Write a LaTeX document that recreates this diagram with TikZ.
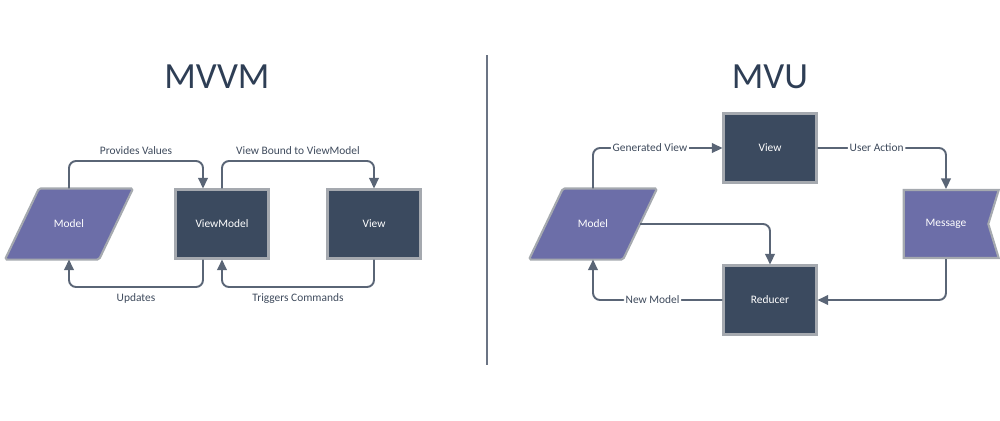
\documentclass[tikz,border=0pt]{standalone}
\usepackage{fontspec}
\setmainfont{Carlito}
\usepackage{tikz}
\usetikzlibrary{shapes.symbols, arrows.meta, backgrounds}

\definecolor{boxfill}{HTML}{3B4A5F}
\definecolor{modelfill}{HTML}{6C6EA8}
\definecolor{boxline}{HTML}{A5A9AF}
\definecolor{flowcol}{HTML}{5A6576}
\definecolor{titlecol}{HTML}{2E3E55}
\definecolor{labelcol}{HTML}{3E4A5C}

\tikzset{
	boxtext/.style = {text = white, font = \fontsize{6.5}{8}\selectfont},
	darkbox/.style = {rectangle, boxtext, fill = boxfill, draw = boxline, line width = 1.2pt,
		minimum width = 1.86cm, minimum height = 1.38cm},
	modelbox/.style = {rectangle, boxtext, minimum width = 1.84cm, minimum height = 1.38cm,
		outer sep = 0.6pt},
	slantback/.style = {fill = modelfill, draw = boxline, line width = 1.2pt, rounded corners = 1pt},
	msgbox/.style = {signal, signal to = nowhere, signal from = east, signal pointer angle = 146, boxtext,
		fill = modelfill, draw = boxline, line width = 1.2pt,
		minimum width = 1.9cm, minimum height = 1.36cm},
	flow/.style = {draw = flowcol, line width = 1.1pt, rounded corners = 4pt,
		-{Triangle[length = 6pt, width = 5.5pt]}},
	lbl/.style = {text = labelcol, font = \fontsize{6.5}{8}\selectfont},
	onlbl/.style = {lbl, fill = white, inner sep = 1pt},
	title/.style = {text = titlecol, font = \fontsize{21}{24}\selectfont, anchor = base}
}

% parallelogram behind a model node
\newcommand{\modelback}[1]{%
	\begin{pgfonlayer}{background}
		\path[slantback] ([xshift = -0.34cm]#1.south west) -- ([xshift = -0.34cm]#1.south east)
			-- ([xshift = 0.34cm]#1.north east) -- ([xshift = 0.34cm]#1.north west) -- cycle;
	\end{pgfonlayer}}

\begin{document}
\begin{tikzpicture}[x = 0.02cm, y = -0.02cm]
	\useasboundingbox (0, 0) rectangle (1000, 420);
	\draw[flowcol!90, line width = 1.1pt] (487, 55) -- (487, 365);
	% MVVM
	\node[title] (mvvmTitle) at (217, 88) {MVVM};
	\node[modelbox] (mvvmModel) at (69, 224) {Model};
	\modelback{mvvmModel}
	\node[darkbox] (mvvmVM) at (222, 224) {ViewModel};
	\node[darkbox] (mvvmView) at (374, 224) {View};
	\coordinate (topLane) at (0, 161);
	\coordinate (botLane) at (0, 287);
	\coordinate (vmLeft) at (203, 0);
	\draw[flow] (mvvmModel.north) -- (mvvmModel.center |- topLane)
		-- (vmLeft |- topLane) node[midway, above, lbl] {Provides Values} -- (vmLeft |- mvvmVM.north);
	\draw[flow] (mvvmVM.north) -- (mvvmVM.center |- topLane)
		-- (mvvmView.center |- topLane) node[midway, above, lbl] {View Bound to ViewModel} -- (mvvmView.north);
	\draw[flow] (vmLeft |- mvvmVM.south) -- (vmLeft |- botLane)
		-- (mvvmModel.center |- botLane) node[midway, below, lbl] {Updates} -- (mvvmModel.south);
	\draw[flow] (mvvmView.south) -- (mvvmView.center |- botLane)
		-- (mvvmVM.center |- botLane) node[midway, below, lbl] {Triggers Commands} -- (mvvmVM.south);
	% MVU
	\node[title] (mvuTitle) at (770, 88) {MVU};
	\node[darkbox] (mvuView) at (770, 148) {View};
	\node[modelbox] (mvuModel) at (593, 224) {Model};
	\modelback{mvuModel}
	\node[msgbox] (mvuMsg) at (946, 224) {Message};
	\node[darkbox] (mvuReducer) at (770, 300) {Reducer};
	\draw[flow] (mvuModel.north) |- (mvuView.west) node[pos = 0.72, onlbl] {Generated View};
	\draw[flow] (mvuView.east) -| (mvuMsg.north) node[pos = 0.23, onlbl] {User Action};
	\draw[flow] (mvuModel.east) -| (mvuReducer.north);
	\draw[flow] (mvuMsg.south) |- (mvuReducer.east);
	\draw[flow] (mvuReducer.west) -| (mvuModel.south) node[pos = 0.27, onlbl] {New Model};
\end{tikzpicture}
\end{document}
